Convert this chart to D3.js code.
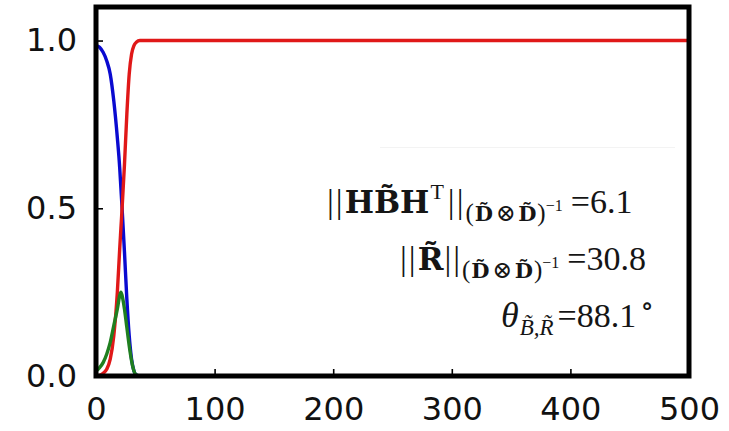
<!DOCTYPE html>
<html>
<head>
<meta charset="utf-8">
<script src="https://cdn.jsdelivr.net/npm/d3@7"></script>
<style>
  html, body { margin: 0; padding: 0; background: #fff; }
  svg { display: block; }
</style>
</head>
<body>
<svg id="chart" width="729" height="431"></svg>
<script>
// Iteration axis samples and the three curves
const iterations = [0, 3, 6, 9, 12, 15, 18, 20, 21, 22, 24, 26, 28, 30, 32, 34, 37, 40, 50, 100, 200, 300, 400, 500];
const blueSeries  = [0.985, 0.98, 0.965, 0.94, 0.90, 0.82, 0.71, 0.62, 0.56, 0.50, 0.37, 0.23, 0.12, 0.05, 0.015, 0.003, 0, 0, 0, 0, 0, 0, 0, 0];
const redSeries   = [0.0, 0.002, 0.008, 0.02, 0.05, 0.12, 0.25, 0.38, 0.44, 0.50, 0.63, 0.78, 0.90, 0.96, 0.985, 0.995, 1.0, 1.0, 1, 1, 1, 1, 1, 1];
const greenSeries = [0.015, 0.025, 0.04, 0.065, 0.10, 0.15, 0.20, 0.24, 0.25, 0.24, 0.20, 0.145, 0.09, 0.045, 0.015, 0.003, 0, 0, 0, 0, 0, 0, 0, 0];

const xTicks = [0, 100, 200, 300, 400, 500];
const yTicks = [0.0, 0.5, 1.0];

const svg = d3.select("#chart");
const plotLeft = 96, plotRight = 689, plotTop = 7, plotBottom = 376;

const x = d3.scaleLinear().domain([0, 500]).range([plotLeft, plotRight]);
const y = d3.scaleLinear().domain([0, 1.1]).range([plotBottom, plotTop]);

svg.append("defs").append("clipPath").attr("id", "plotClip")
  .append("rect").attr("x", plotLeft).attr("y", plotTop)
  .attr("width", plotRight - plotLeft).attr("height", plotBottom - plotTop);

// faint edge of the annotation box
svg.append("line")
  .attr("x1", 380).attr("x2", 675).attr("y1", 147.5).attr("y2", 147.5)
  .attr("stroke", "#f3f3f3").attr("stroke-width", 1);

const line = vals => d3.line()
  .x((d, i) => x(iterations[i]))
  .y(d => y(d))
  .curve(d3.curveMonotoneX)(vals);

const plot = svg.append("g").attr("clip-path", "url(#plotClip)");
[[blueSeries, "#0a0ad0"], [redSeries, "#e01818"], [greenSeries, "#1f7f1f"]].forEach(([vals, col]) => {
  plot.append("path").attr("d", line(vals))
    .attr("fill", "none").attr("stroke", col).attr("stroke-width", 3.4)
    .attr("stroke-linejoin", "round");
});

// axes with inward ticks
const xAxis = d3.axisBottom(x).tickValues(xTicks).tickFormat(d3.format("d")).tickSizeInner(-7).tickSizeOuter(0).tickPadding(21);
const yAxis = d3.axisLeft(y).tickValues(yTicks).tickFormat(d3.format(".1f")).tickSizeInner(-7).tickSizeOuter(0).tickPadding(19);

const gx = svg.append("g").attr("transform", `translate(0,${plotBottom})`).call(xAxis);
const gy = svg.append("g").attr("transform", `translate(${plotLeft},0)`).call(yAxis);
[gx, gy].forEach(g => {
  g.select(".domain").remove();
  g.selectAll(".tick line").attr("stroke", "#000").attr("stroke-width", 1.6);
  g.selectAll(".tick text").attr("fill", "#111")
    .style("font-family", "'DejaVu Sans', sans-serif").style("font-size", "32px");
});
gx.selectAll(".tick text").attr("dy", "0.71em");

// plot frame
svg.append("rect")
  .attr("x", plotLeft).attr("y", plotTop).attr("width", plotRight - plotLeft).attr("height", plotBottom - plotTop)
  .attr("fill", "none").attr("stroke", "#000").attr("stroke-width", 5);

// annotation lines (norms and angle)
const serif = "'Liberation Serif', 'DejaVu Serif', serif";
function mathLine(xStart, baseY, parts) {
  const t = svg.append("text").attr("x", xStart).attr("y", baseY)
    .attr("text-anchor", "start").style("font-family", serif).attr("fill", "#151515");
  parts.forEach(p => {
    const s = t.append("tspan").text(p.t).style("font-size", (p.size || 34) + "px");
    if (p.family) s.style("font-family", p.family);
    if (p.bold) s.style("font-weight", "bold");
    if (p.italic) s.style("font-style", "italic");
    if (p.dy) s.attr("dy", p.dy);
    if (p.dx) s.attr("dx", p.dx);
    if (p.ls) s.style("letter-spacing", p.ls + "px");
  });
}

const boldSerif = "'DejaVu Serif', serif";

mathLine(327, 213, [
  { t: "||", ls: 2 },
  { t: "HB\u0303H", bold: true, family: boldSerif, size: 31 },
  { t: "T", size: 22, dy: -14, dx: 1 },
  { t: "||", dy: 14, dx: 4, ls: 2 },
  { t: "(", size: 25, dy: 8 },
  { t: "D\u0303", size: 21, bold: true, family: boldSerif, dx: 1 },
  { t: "\u2297", size: 24, dx: 3 },
  { t: "D\u0303", size: 21, bold: true, family: boldSerif, dx: 2 },
  { t: ")", size: 25, dx: 1 },
  { t: "\u22121", size: 16, dy: -10 },
  { t: "=6.1", dy: 2, dx: 8 }
]);

mathLine(400, 270, [
  { t: "||", ls: 2 },
  { t: "R\u0303", bold: true, family: boldSerif, size: 31 },
  { t: "||", ls: 2, dx: 1 },
  { t: "(", size: 25, dy: 8 },
  { t: "D\u0303", size: 21, bold: true, family: boldSerif, dx: 1 },
  { t: "\u2297", size: 24, dx: 3 },
  { t: "D\u0303", size: 21, bold: true, family: boldSerif, dx: 2 },
  { t: ")", size: 25, dx: 1 },
  { t: "\u22121", size: 16, dy: -10 },
  { t: "=30.8", dy: 2, dx: 8 }
]);

mathLine(501, 327, [
  { t: "\u03B8", italic: true, size: 36 },
  { t: "B\u0303,R\u0303", size: 23, italic: true, dy: 8, dx: 1 },
  { t: "=88.1", dy: -8, dx: 4 },
  { t: "\u2218", dy: -12, dx: 4, size: 28 }
]);
</script>
</body>
</html>
